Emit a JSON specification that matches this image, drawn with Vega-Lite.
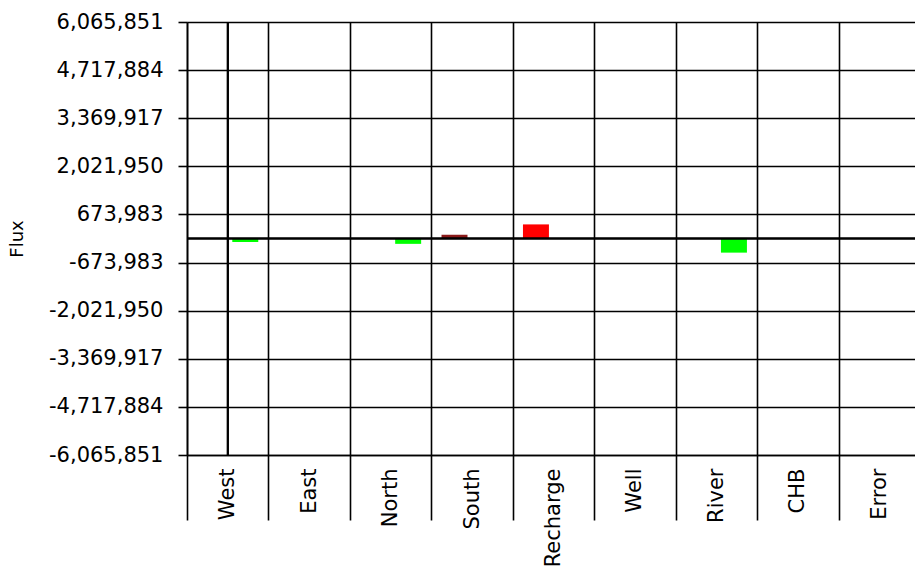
{
  "$schema": "https://vega.github.io/schema/vega-lite/v6.json",
  "autosize": {"type": "none"},
  "padding": {"left": 187, "top": 22, "right": 0, "bottom": 119},
  "width": 728,
  "height": 433,
  "background": "white",
  "config": {
    "view": {"stroke": null},
    "font": "DejaVu Sans",
    "axis": {
      "domainColor": "#000",
      "domainWidth": 1.6,
      "tickColor": "#000",
      "tickWidth": 1.6,
      "gridColor": "#000",
      "gridOpacity": 1,
      "gridWidth": 1.6,
      "labelColor": "#000",
      "labelFont": "DejaVu Sans",
      "labelFontSize": 21,
      "titleFont": "DejaVu Sans",
      "titleColor": "#000",
      "titleFontWeight": "normal"
    }
  },
  "data": {
    "values": [
      {"zone": "West", "dir": "Out", "shade": "Out", "flux": -98000},
      {"zone": "North", "dir": "Out", "shade": "Out", "flux": -150000},
      {"zone": "South", "dir": "In", "shade": "In small", "flux": 105000},
      {"zone": "Recharge", "dir": "In", "shade": "In", "flux": 395000},
      {"zone": "River", "dir": "Out", "shade": "Out", "flux": -396000}
    ]
  },
  "layer": [
    {
      "mark": {"type": "bar"},
      "encoding": {
        "x": {
          "field": "zone",
          "type": "nominal",
          "sort": null,
          "scale": {
            "domain": ["West", "East", "North", "South", "Recharge", "Well", "River", "CHB", "Error"],
            "range": [0, 733],
            "paddingInner": 0,
            "paddingOuter": 0
          },
          "axis": {
            "title": null,
            "labelAngle": -90,
            "tickBand": "extent",
            "tickSize": 65,
            "labelPadding": -52,
            "grid": true
          }
        },
        "xOffset": {
          "field": "dir",
          "type": "nominal",
          "scale": {"domain": ["In", "Out"], "paddingInner": 0.26, "paddingOuter": 0.29}
        },
        "y": {
          "field": "flux",
          "type": "quantitative",
          "scale": {"domain": [-6065851, 6065851], "nice": false, "zero": false},
          "axis": {
            "title": "Flux",
            "titleFontSize": 18,
            "titlePadding": 22,
            "values": [-6065851, -4717884, -3369917, -2021950, -673983, 673983, 2021950, 3369917, 4717884, 6065851],
            "format": ",d",
            "labelExpr": "replace(datum.label, '\u2212', '-')",
            "labelFontSize": 21,
            "tickSize": 9,
            "labelPadding": 15,
            "grid": true
          }
        },
        "color": {
          "field": "shade",
          "type": "nominal",
          "scale": {"domain": ["In", "In small", "Out"], "range": ["#ff0000", "#8b1a1a", "#00ff00"]},
          "legend": null
        }
      }
    },
    {
      "mark": {"type": "rule", "color": "#000", "strokeWidth": 1.6},
      "encoding": {"y": {"datum": 0}}
    },
    {
      "mark": {"type": "rule", "color": "#000", "strokeWidth": 1.6},
      "encoding": {"x": {"datum": "West", "bandPosition": 0.5}}
    }
  ]
}
